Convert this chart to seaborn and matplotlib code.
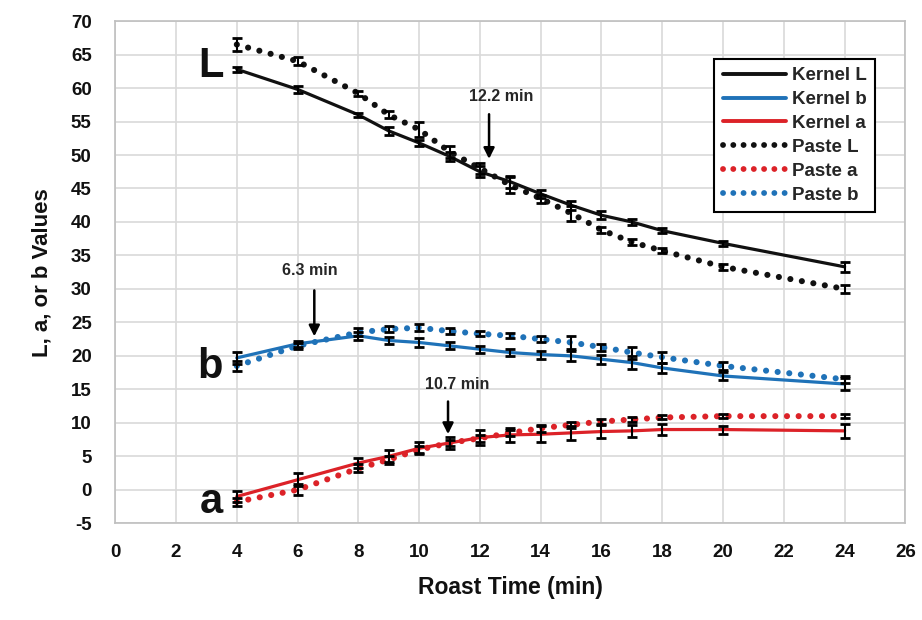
import matplotlib
matplotlib.use("Agg")
import matplotlib.pyplot as plt
import seaborn as sns
import pandas as pd
from matplotlib.lines import Line2D

time = [4, 6, 8, 9, 10, 11, 12, 13, 14, 15, 16, 17, 18, 20, 24]

kernel_L = [62.8, 59.8, 56.0, 53.6, 51.8, 49.8, 47.5, 46.0, 44.2, 42.5, 41.0, 40.0, 38.7, 36.8, 33.3]
paste_L = [66.5, 64.0, 59.2, 56.0, 53.8, 50.5, 48.0, 45.5, 43.5, 41.3, 38.8, 37.0, 35.7, 33.3, 30.0]
kernel_b = [19.7, 21.8, 23.0, 22.3, 22.0, 21.5, 21.0, 20.5, 20.2, 20.0, 19.5, 19.0, 18.2, 17.0, 15.8]
paste_b = [18.5, 21.5, 23.5, 24.0, 24.2, 23.7, 23.3, 23.0, 22.5, 22.0, 21.3, 20.5, 19.8, 18.5, 16.5]
kernel_a = [-1.0, 1.5, 4.0, 5.0, 6.2, 7.0, 7.8, 8.2, 8.3, 8.5, 8.7, 8.8, 9.0, 9.0, 8.8]
paste_a = [-1.8, 0.0, 3.2, 4.5, 6.0, 7.0, 7.7, 8.5, 9.2, 9.7, 10.2, 10.5, 10.8, 11.0, 11.0]

err_kernel_L = [0.4, 0.5, 0.3, 0.6, 0.5, 0.7, 0.8, 0.9, 0.6, 0.7, 0.6, 0.4, 0.4, 0.4, 0.7]
err_paste_L = [0.9, 0.6, 0.4, 0.5, 1.1, 0.9, 0.8, 1.2, 0.6, 1.1, 0.5, 0.4, 0.4, 0.4, 0.6]
err_kernel_b = [0.9, 0.4, 0.6, 0.5, 0.7, 0.5, 0.5, 0.5, 0.6, 0.7, 0.7, 1.0, 0.7, 0.6, 0.9]
err_paste_b = [0.7, 0.4, 0.6, 0.5, 0.5, 0.4, 0.4, 0.4, 0.5, 1.0, 0.5, 0.9, 0.8, 0.6, 0.5]
err_kernel_a = [0.8, 1.0, 0.7, 0.9, 0.9, 0.9, 1.1, 1.0, 1.2, 1.0, 1.0, 0.9, 0.8, 0.6, 1.0]
err_paste_a = [0.6, 0.8, 0.6, 0.6, 0.5, 0.5, 0.5, 0.5, 0.5, 0.5, 0.3, 0.3, 0.3, 0.3, 0.3]

series_names = ["Kernel L", "Kernel b", "Kernel a", "Paste L", "Paste a", "Paste b"]
series_vals = [kernel_L, kernel_b, kernel_a, paste_L, paste_a, paste_b]
series_err = [err_kernel_L, err_kernel_b, err_kernel_a, err_paste_L, err_paste_a, err_paste_b]

BLACK = "#111111"
BLUE = "#1f72b8"
RED = "#dc2228"
colors = {"Kernel L": BLACK, "Kernel b": BLUE, "Kernel a": RED,
          "Paste L": BLACK, "Paste a": RED, "Paste b": BLUE}

rows = []
for name, vals in zip(series_names, series_vals):
    for t, v in zip(time, vals):
        rows.append({"time": t, "value": v, "series": name})
df = pd.DataFrame(rows)

sns.set_theme(style="whitegrid")
plt.rcParams["font.family"] = ["Liberation Sans", "DejaVu Sans"]
plt.rcParams["axes.unicode_minus"] = False

fig = plt.figure(figsize=(9.22, 6.2), dpi=100)
ax = fig.add_axes([0.125, 0.156, 0.857, 0.81])

DOT = [0.01, 1.9]

for name in series_names:
    sub = df[df.series == name]
    kernel = name.startswith("Kernel")
    sns.lineplot(data=sub, x="time", y="value", ax=ax, color=colors[name],
                 linewidth=2.3 if kernel else 4.4, legend=False, zorder=3)
    line = ax.lines[-1]
    if not kernel:
        line.set_dashes(DOT)
        line.set_dash_capstyle("round")

for name, vals, errs in zip(series_names, series_vals, series_err):
    ax.errorbar(time, vals, yerr=errs, fmt="none", ecolor="black",
                elinewidth=1.5, capsize=3.8, capthick=2.0, zorder=4)

ax.set_xlim(0, 26)
ax.set_ylim(-5, 70)
ax.set_xticks(range(0, 27, 2))
ax.set_yticks(range(-5, 71, 5))
ax.grid(True, color="#d9d9d9", linewidth=1.2)
for s in ax.spines.values():
    s.set_visible(True)
    s.set_color("#bfbfbf")
    s.set_linewidth(1.2)
ax.tick_params(axis="x", labelsize=13.5, length=0, pad=15)
ax.tick_params(axis="y", labelsize=13.5, length=0, pad=17)
for lab in ax.get_xticklabels() + ax.get_yticklabels():
    lab.set_fontweight("bold")
    lab.set_color("#111111")
ax.set_xlabel("Roast Time (min)", fontsize=16.5, fontweight="bold", labelpad=11, color="#111111")
ax.set_ylabel("L, a, or b Values", fontsize=16, fontweight="bold", labelpad=13, color="#111111")

# big series letters
ax.text(3.55, 63.3, "L", fontsize=30, fontweight="bold", ha="right", va="center", color="#111111")
ax.text(3.55, 18.3, "b", fontsize=30, fontweight="bold", ha="right", va="center", color="#111111")
ax.text(3.55, -1.8, "a", fontsize=30, fontweight="bold", ha="right", va="center", color="#111111")

# arrows
arrowprops = dict(arrowstyle="-|>", color="black", lw=1.8, mutation_scale=16)
ax.annotate("", xy=(12.3, 49.0), xytext=(12.3, 56.5), arrowprops=arrowprops)
ax.text(12.7, 58.8, "12.2 min", fontsize=11.5, fontweight="bold", ha="center", va="center")
ax.annotate("", xy=(6.55, 22.5), xytext=(6.55, 30.2), arrowprops=arrowprops)
ax.text(6.4, 32.8, "6.3 min", fontsize=11.5, fontweight="bold", ha="center", va="center")
ax.annotate("", xy=(10.95, 7.9), xytext=(10.95, 13.6), arrowprops=arrowprops)
ax.text(11.25, 15.8, "10.7 min", fontsize=11.5, fontweight="bold", ha="center", va="center")

handles = []
for name in series_names:
    if name.startswith("Kernel"):
        handles.append(Line2D([0], [0], color=colors[name], lw=2.8, ls="-"))
    else:
        h = Line2D([0], [0], color=colors[name], lw=4.2, dashes=[0.01, 1.75],
                   dash_capstyle="round")
        handles.append(h)
leg = ax.legend(handles, series_names, loc="upper right", bbox_to_anchor=(0.962, 0.925),
                frameon=True, fancybox=False, edgecolor="black", framealpha=1,
                prop={"weight": "bold", "size": 13.5}, handlelength=3.4, handletextpad=0.3,
                labelspacing=0.36, borderpad=0.45, borderaxespad=0)
leg.get_frame().set_linewidth(1.5)

fig.savefig("out.png", dpi=100)
